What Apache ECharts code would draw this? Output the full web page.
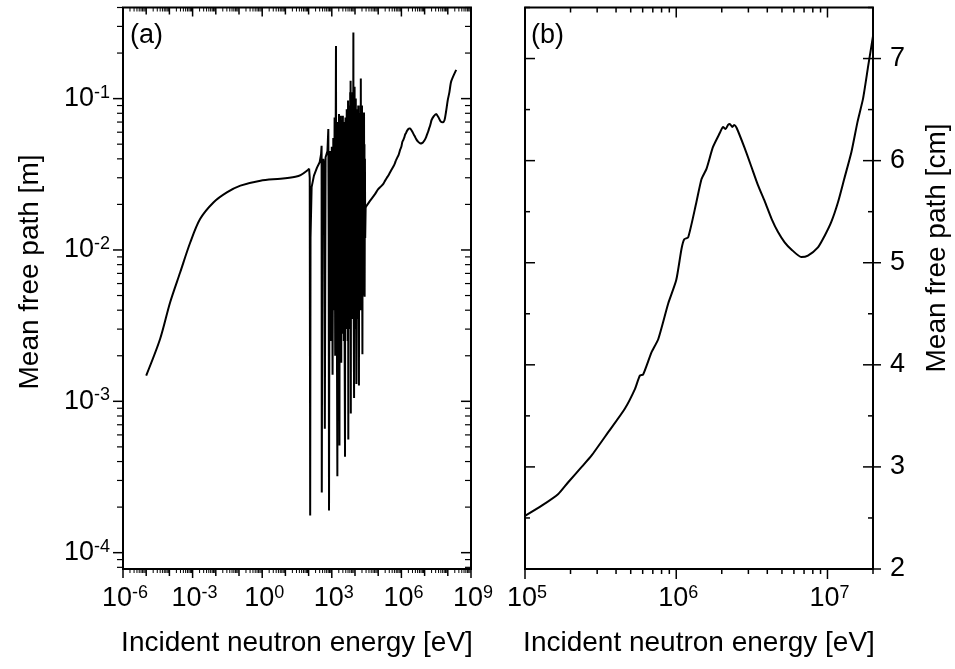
<!DOCTYPE html>
<html>
<head>
<meta charset="utf-8">
<script src="https://cdn.jsdelivr.net/npm/echarts@6.0.0/dist/echarts.min.js"></script>
<style>
html,body{margin:0;padding:0;background:#fff;}
#chart{width:955px;height:669px;}
</style>
</head>
<body>
<div id="chart"></div>
<script>
// ---------- Panel (a): mean free path [m] vs energy [eV] ----------
const aLowE = [1e-5, 4e-5, 1.07e-4, 2.9e-4, 7.9e-4, 2.1e-3, 7.9e-3, 0.03, 0.115, 0.84, 6.2, 27, 45, 87, 105];
const aLowV = [1.48e-3, 2.59e-3, 4.5e-3, 7.1e-3, 1.12e-2, 1.6e-2, 2.06e-2, 2.4e-2, 2.66e-2, 2.87e-2, 2.96e-2, 3.05e-2, 3.12e-2, 3.35e-2, 3.45e-2];

const aResE = [
  105, 112, 117, 121, 135, 170, 230, 300, 345, 363,
  370, 395, 430, 470, 501, 540, 600, 650, 708, 735,
  759, 800, 870, 930, 1000, 1080, 1160, 1230, 1320, 1400,
  1470, 1514, 1560, 1600, 1660, 1738, 1780, 1820, 1870, 1920,
  1980, 2042, 2090, 2140, 2190, 2240, 2300, 2350, 2400, 2450,
  2500, 2560, 2630, 2700, 2780, 2850, 2920, 3000, 3100, 3200,
  3300, 3400, 3550, 3715, 3800, 3900, 4000, 4150, 4270, 4400,
  4550, 4700, 4850, 5012, 5080, 5150, 5270, 5400, 5550, 5700,
  5850, 6000, 6100, 6200, 6330, 6457, 6530, 6600, 6800, 7000,
  7200, 7400, 7650, 7900, 8200, 8511, 8650, 8800, 9120, 9350,
  9600, 9900, 1.02e4, 1.05e4, 1.08e4, 1.12e4, 1.15e4, 1.19e4, 1.22e4, 1.26e4,
  1.3e4, 1.34e4, 1.38e4, 1.43e4, 1.48e4, 1.53e4, 1.58e4, 1.64e4, 1.7e4, 1.74e4,
  1.78e4, 1.83e4, 1.88e4, 1.94e4, 2.0e4, 2.05e4, 2.09e4, 2.15e4, 2.2e4, 2.26e4,
  2.32e4, 2.38e4, 2.45e4, 2.52e4, 2.56e4, 2.6e4, 2.68e4, 2.75e4, 2.88e4];
const aResV = [
  0.0345, 0.030, 1.76e-4, 0.012, 0.026, 0.031, 0.035, 0.038, 0.043, 0.0488,
  2.5e-4, 0.026, 0.040, 0.036, 6.6e-4, 0.041, 0.040, 0.045, 0.063, 0.012,
  1.9e-4, 0.030, 0.045, 2.5e-3, 0.048, 1.5e-3, 0.055, 4e-3, 0.075, 2e-3,
  0.06, 0.223, 6e-3, 0.05, 2.8e-3, 3.2e-4, 0.07, 0.065, 2.6e-3, 0.06,
  3e-3, 0.079, 4e-3, 5.1e-4, 0.07, 0.075, 2.6e-3, 0.06, 3.5e-3, 0.077,
  4e-3, 1.8e-3, 0.065, 0.072, 2.8e-3, 0.07, 3e-3, 0.077, 3.2e-3, 0.065,
  2.5e-3, 0.070, 3e-3, 4.3e-4, 0.06, 0.075, 3e-3, 0.07, 3e-3, 0.085,
  3.2e-3, 0.07, 2.5e-3, 0.097, 5e-3, 5.6e-4, 0.08, 0.09, 3.5e-3, 0.08,
  3e-3, 0.09, 4e-3, 0.11, 5e-3, 0.131, 6e-3, 8.3e-4, 0.09, 0.095,
  3.5e-3, 0.08, 3.5e-3, 0.11, 5e-3, 0.273, 6e-3, 4e-3, 1.05e-3, 0.09,
  0.12, 4e-3, 0.08, 3e-3, 0.10, 4e-3, 1.3e-3, 0.07, 0.085, 4e-3,
  0.075, 3.5e-3, 0.09, 4e-3, 1.27e-3, 0.07, 0.08, 4.5e-3, 0.09, 4e-3,
  0.136, 5e-3, 0.08, 5e-3, 0.09, 5e-3, 2.05e-3, 0.065, 0.06, 6e-3,
  0.075, 6e-3, 0.081, 5e-3, 0.05, 4.9e-3, 0.04, 0.012, 0.0192];

const aMidE = [2.88e4, 4.5e4, 7e4];
const aMidV = [0.0192, 0.0212, 0.0232];
const aTailE = [2.5e7, 3.16e7, 3.9e7, 5.0e7, 6.0e7, 7.2e7, 8.3e7, 1.0e8, 1.17e8, 1.4e8, 2.3e8];
const aTailV = [0.0765, 0.079, 0.0755, 0.0705, 0.0697, 0.072, 0.081, 0.098, 0.11, 0.13, 0.155];

// ---------- Panel (b): mean free path [cm] vs energy [eV] ----------
const bE = [1.0e5, 1.29e5, 1.66e5, 1.93e5, 2.37e5, 2.75e5, 3.55e5, 4.57e5, 5.34e5, 5.75e5, 6.04e5, 6.87e5, 7.6e5, 8.85e5,
  1.0e6, 1.084e6, 1.13e6, 1.2e6, 1.36e6, 1.47e6, 1.585e6, 1.75e6, 1.94e6, 2.04e6, 2.12e6, 2.2e6, 2.26e6, 2.35e6, 2.42e6, 2.51e6,
  2.84e6, 3.14e6, 3.47e6, 3.85e6, 4.27e6, 4.71e6, 5.21e6, 5.77e6, 6.71e6, 7.43e6, 8.65e6, 9.55e6,
  1.06e7, 1.175e7, 1.29e7, 1.44e7, 1.58e7, 1.72e7, 1.86e7, 2.0e7];
const bV = [2.52, 2.62, 2.735, 2.85, 3.0, 3.11, 3.34, 3.57, 3.765, 3.895, 3.905, 4.124, 4.25, 4.6,
  4.83, 5.137, 5.23, 5.25, 5.595, 5.82, 5.92, 6.134, 6.27, 6.33, 6.31, 6.35, 6.36, 6.33, 6.35, 6.32,
  6.12, 5.94, 5.76, 5.60, 5.43, 5.30, 5.2, 5.13, 5.056, 5.07, 5.15, 5.26,
  5.40, 5.595, 5.82, 6.085, 6.38, 6.61, 6.93, 7.22];

// ---------- Axes / ticks ----------
const A_XMIN = 1e-6, A_XMAX = 1e9, A_YMIN = 7.8e-5, A_YMAX = 0.4;
const B_XMIN = 1e5, B_XMAX = 2e7, B_YMIN = 2, B_YMAX = 7.5;
const aXLabelExp = [-6, -3, 0, 3, 6, 9];
const aYLabelExp = [-4, -3, -2, -1];
const bXLabelExp = [5, 6, 7];
const bYLabels = [2, 3, 4, 5, 6, 7];

const FONT = "'Liberation Sans', Arial, Helvetica, sans-serif";
const TICK_FS = 27, SUP_FS = 18, TITLE_FS = 28;

const zip = (xs, ys, k) => xs.map((x, i) => [x, ys[i] * (k || 1)]);
const aHighData = zip(aMidE, aMidV).concat(zip(bE, bV, 0.01)).concat(zip(aTailE, aTailV));

function powLabel(exp) {
  return {
    text: '{b|10}{s|' + exp + '}',
    rich: {
      b: {fontSize: TICK_FS, fontFamily: FONT, fill: '#000', lineHeight: 30},
      s: {fontSize: SUP_FS, fontFamily: FONT, fill: '#000', lineHeight: 20, verticalAlign: 'top'}
    }
  };
}

function lineEl(ch, x1, y1, x2, y2, w) {
  ch.push({type: 'line', shape: {x1: x1, y1: y1, x2: x2, y2: y2}, style: {stroke: '#000', lineWidth: w || 1.5}});
}

function renderA(params, api) {
  const px = v => api.coord([v, A_YMIN])[0];
  const py = v => api.coord([A_XMIN, v])[1];
  const gl = px(A_XMIN), gr = px(A_XMAX), gt = py(A_YMAX), gb = py(A_YMIN);
  const ch = [];
  for (let e = -6; e <= 9; e++) {
    const x = px(Math.pow(10, e));
    const len = (e % 3 === 0) ? 9 : 7;
    lineEl(ch, x, gb, x, gb + len);
    lineEl(ch, x, gt, x, gt + len);
    if (e < 9) {
      for (let m = 2; m <= 9; m++) {
        const xm = px(m * Math.pow(10, e));
        lineEl(ch, xm, gb, xm, gb + 4, 1);
        lineEl(ch, xm, gt, xm, gt + 4, 1);
      }
    }
  }
  for (let e = -5; e <= 0; e++) {
    const v = Math.pow(10, e);
    if (v >= A_YMIN && v <= A_YMAX) {
      const y = py(v);
      lineEl(ch, gl - 10, y, gl, y);
      lineEl(ch, gr - 10, y, gr, y);
    }
    for (let m = 2; m <= 9; m++) {
      const vm = m * v;
      if (vm >= A_YMIN && vm <= A_YMAX) {
        const y = py(vm);
        lineEl(ch, gl - 6, y, gl, y, 1.2);
        lineEl(ch, gr - 6, y, gr, y, 1.2);
      }
    }
  }
  aXLabelExp.forEach(e => {
    const s = powLabel(e);
    ch.push({type: 'text', x: px(Math.pow(10, e)) + 2, y: gb + 30,
      style: Object.assign(s, {align: 'center', verticalAlign: 'middle'})});
  });
  aYLabelExp.forEach(e => {
    const s = powLabel(e);
    ch.push({type: 'text', x: gl - 13, y: py(Math.pow(10, e)),
      style: Object.assign(s, {align: 'right', verticalAlign: 'middle'})});
  });
  return {type: 'group', children: ch};
}

function renderB(params, api) {
  const px = v => api.coord([v, B_YMIN])[0];
  const py = v => api.coord([B_XMIN, v])[1];
  const gl = px(B_XMIN), gr = px(B_XMAX), gt = py(B_YMAX), gb = py(B_YMIN);
  const ch = [];
  for (let e = 5; e <= 7; e++) {
    const x = px(Math.pow(10, e));
    lineEl(ch, x, gb, x, gb + 10);
    lineEl(ch, x, gt, x, gt + 10);
    for (let m = 2; m <= 9; m++) {
      const vm = m * Math.pow(10, e);
      if (vm <= B_XMAX) {
        const xm = px(vm);
        lineEl(ch, xm, gb, xm, gb + 5);
        lineEl(ch, xm, gt, xm, gt + 5);
      }
    }
  }
  for (let k = 4; k <= 15; k++) {
    const v = k / 2;
    const y = py(v);
    const major = (k % 2 === 0);
    lineEl(ch, gl, y, gl + (major ? 10 : 5), y);
    lineEl(ch, gr - (major ? 10 : 5), y, gr, y);
    if (major) lineEl(ch, gr, y, gr + 8, y);
  }
  bXLabelExp.forEach(e => {
    const s = powLabel(e);
    ch.push({type: 'text', x: px(Math.pow(10, e)) + 2, y: gb + 30,
      style: Object.assign(s, {align: 'center', verticalAlign: 'middle'})});
  });
  bYLabels.forEach(v => {
    ch.push({type: 'text', x: gr + 17, y: py(v),
      style: {text: String(v), fontSize: TICK_FS, fontFamily: FONT, fill: '#000', align: 'left', verticalAlign: 'middle'}});
  });
  return {type: 'group', children: ch};
}

const hiddenAxis = {
  axisLine: {show: false}, axisTick: {show: false}, axisLabel: {show: false}, splitLine: {show: false}
};

const chart = echarts.init(document.getElementById('chart'), null, {renderer: 'canvas'});
chart.setOption({
  animation: false,
  backgroundColor: '#fff',
  grid: [
    {left: 123, top: 7.5, width: 348, height: 561.5, show: true, borderColor: '#000', borderWidth: 2, backgroundColor: 'transparent'},
    {left: 525, top: 7.5, width: 348, height: 561.5, show: true, borderColor: '#000', borderWidth: 2, backgroundColor: 'transparent'}
  ],
  xAxis: [
    Object.assign({type: 'log', logBase: 10, gridIndex: 0, min: A_XMIN, max: A_XMAX}, hiddenAxis),
    Object.assign({type: 'log', logBase: 10, gridIndex: 1, min: B_XMIN, max: B_XMAX}, hiddenAxis)
  ],
  yAxis: [
    Object.assign({type: 'log', logBase: 10, gridIndex: 0, min: A_YMIN, max: A_YMAX}, hiddenAxis),
    Object.assign({type: 'value', gridIndex: 1, min: B_YMIN, max: B_YMAX, position: 'right'}, hiddenAxis)
  ],
  graphic: [
    {type: 'text', left: 130, top: 22, style: {text: '(a)', fontSize: 27, fontFamily: FONT, fill: '#000'}},
    {type: 'text', left: 531, top: 22, style: {text: '(b)', fontSize: 27, fontFamily: FONT, fill: '#000'}},
    {type: 'text', x: 297, y: 643, style: {text: 'Incident neutron energy [eV]', fontSize: TITLE_FS, fontFamily: FONT, fill: '#000', align: 'center', verticalAlign: 'middle'}},
    {type: 'text', x: 699, y: 643, style: {text: 'Incident neutron energy [eV]', fontSize: TITLE_FS, fontFamily: FONT, fill: '#000', align: 'center', verticalAlign: 'middle'}},
    {type: 'text', x: 30, y: 272, rotation: Math.PI / 2, style: {text: 'Mean free path [m]', fontSize: TITLE_FS, fontFamily: FONT, fill: '#000', align: 'center', verticalAlign: 'middle'}},
    {type: 'text', x: 937, y: 248, rotation: Math.PI / 2, style: {text: 'Mean free path [cm]', fontSize: TITLE_FS, fontFamily: FONT, fill: '#000', align: 'center', verticalAlign: 'middle'}}
  ],
  series: [
    {type: 'line', xAxisIndex: 0, yAxisIndex: 0, data: zip(aLowE, aLowV), smooth: 0.3, showSymbol: false,
      lineStyle: {color: '#000', width: 2}, itemStyle: {color: '#000'}},
    {type: 'line', xAxisIndex: 0, yAxisIndex: 0, data: zip(aResE, aResV), smooth: false, showSymbol: false,
      lineStyle: {color: '#000', width: 2}, itemStyle: {color: '#000'}},
    {type: 'line', xAxisIndex: 0, yAxisIndex: 0, data: aHighData, smooth: 0.25, showSymbol: false,
      lineStyle: {color: '#000', width: 2}, itemStyle: {color: '#000'}},
    {type: 'line', xAxisIndex: 1, yAxisIndex: 1, data: zip(bE, bV), smooth: 0.2, showSymbol: false,
      lineStyle: {color: '#000', width: 2}, itemStyle: {color: '#000'}},
    {type: 'custom', xAxisIndex: 0, yAxisIndex: 0, data: [[A_XMIN, A_YMIN]], renderItem: renderA, silent: true, clip: false, z: 5},
    {type: 'custom', xAxisIndex: 1, yAxisIndex: 1, data: [[B_XMIN, B_YMIN]], renderItem: renderB, silent: true, clip: false, z: 5}
  ]
});
</script>
</body>
</html>
